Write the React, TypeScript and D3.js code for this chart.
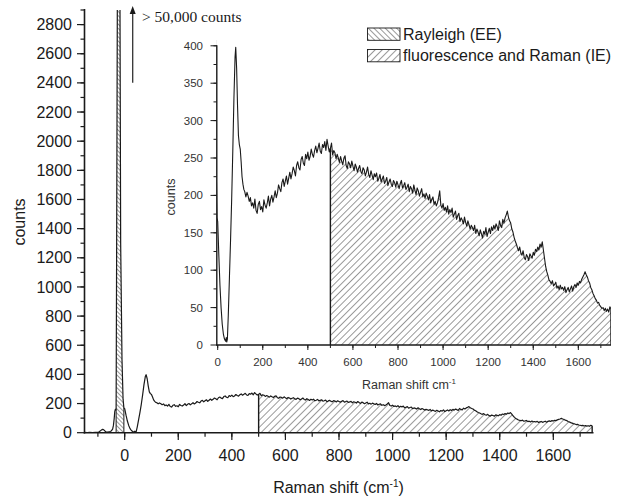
import React from "react";
import * as d3 from "d3";

// ---------- data ----------
// Rayleigh / low-shift region (explicit shift, counts pairs)
const lowShift = [-150, -140, -130, -120, -110, -100, -95, -90, -85, -82, -78, -74, -70, -65, -60, -55, -50, -45, -42, -39, -37, -35, -33, -32, -30, -27.5, -25, -23, -21, -17.5, -15, -10, -6, -3, 0, 5, 10, 15, 20, 25, 30, 35, 38, 40, 43, 47, 52, 57, 62, 67, 72, 77, 80, 84, 88, 92, 96, 100, 104, 108, 112, 116, 120, 125];
const lowCounts = [2, 1, 2, 1, 2, 3, 6, 14, 21, 23, 20, 12, 6, 4, 5, 8, 12, 25, 50, 100, 145, 160, 155, 160, 1300, 2900, 20000, 50000, 20000, 2900, 1300, 500, 230, 170, 165, 120, 80, 50, 28, 15, 8, 5, 10, 4, 8, 40, 90, 140, 195, 260, 330, 385, 398, 370, 320, 280, 268, 262, 245, 225, 215, 208, 205, 198];

// Spectrum body, sampled every 5 cm-1 from 130 cm-1
const bodyStart = 130;
const bodyStep = 5;
const bodyCounts = [
  204, 199, 192, 197, 186, 190, 183, 195, 180, 176, 188, 192, 181, 185, 178, 194, 187, 183, 190, 199,
  186, 195, 200, 191, 198, 206, 197, 203, 214, 209, 205, 217, 222, 212, 219, 226, 215, 223, 231, 222,
  229, 238, 233, 226, 240, 245, 237, 234, 248, 252, 243, 240, 255, 249, 258, 247, 252, 262, 255, 251,
  260, 266, 257, 263, 270, 259, 256, 268, 264, 272, 260, 275, 266, 258, 263, 270, 254, 260, 257, 249,
  255, 250, 244, 252, 246, 241, 250, 253, 240, 236, 245, 242, 237, 246, 239, 233, 242, 238, 231, 236,
  240, 232, 229, 237, 234, 226, 231, 238, 228, 224, 233, 227, 221, 229, 225, 230, 219, 223, 228, 218,
  222, 226, 216, 219, 224, 213, 218, 222, 215, 212, 220, 217, 211, 219, 214, 209, 216, 220, 210, 213,
  217, 208, 211, 215, 205, 212, 209, 203, 214, 207, 201, 210, 206, 199, 204, 209, 198, 202, 196, 203,
  199, 194, 201, 190, 195, 198, 188, 192, 186, 190, 197, 206, 187, 183, 189, 180, 184, 178, 186, 175,
  181, 177, 183, 171, 175, 179, 168, 173, 176, 165, 170, 167, 162, 171, 164, 159, 166, 161, 155, 160,
  157, 153, 160, 149, 155, 151, 146, 154, 149, 143, 152, 148, 157, 145, 151, 156, 149, 158, 153, 160,
  155, 162, 158, 153, 166, 160, 157, 168, 163, 170, 174, 179, 171, 166, 163, 155, 151, 144, 139, 135,
  130, 126, 131, 123, 120, 126, 117, 114, 121, 118, 113, 122, 119, 116, 124, 120, 128, 125, 131, 127,
  135, 131, 138, 127, 116, 105, 98, 93, 87, 85, 82, 86, 79, 81, 84, 76, 79, 74, 80, 75,
  77, 73, 78, 70, 74, 77, 71, 75, 79, 72, 78, 81, 77, 83, 80, 85, 83, 88, 91, 94,
  98, 94, 91, 86, 83, 77, 74, 69, 66, 62, 60, 56, 57, 53, 51, 49, 50, 46, 49, 45, 48, 44, 51, 48,
];

const eeRange = [-32, -3];
const ieRange = [500, 1745];

const mainXTicks = [0, 200, 400, 600, 800, 1000, 1200, 1400, 1600];
const mainYTicks = [0, 200, 400, 600, 800, 1000, 1200, 1400, 1600, 1800, 2000, 2200, 2400, 2600, 2800];
const insetXTicks = [0, 200, 400, 600, 800, 1000, 1200, 1400, 1600];
const insetYTicks = [0, 50, 100, 150, 200, 250, 300, 350, 400];

type Pt = { x: number; c: number };
const spectrum: Pt[] = [
  ...lowShift.map((x, i) => ({ x, c: lowCounts[i] })),
  ...bodyCounts.map((c, i) => ({ x: bodyStart + i * bodyStep, c })),
];

const FONT = "Liberation Sans, Arial, Helvetica, sans-serif";
const INK = "#1a1a1a";
const HATCH = "#111";

function range(a: number, b: number, s: number) {
  const r: number[] = [];
  for (let v = a; v <= b + 1e-9; v += s) r.push(v);
  return r;
}

export default function App() {
  // main plot scales
  const x = d3.scaleLinear().domain([-150, 1750]).range([84.5, 593.5]);
  const y = d3.scaleLinear().domain([0, 2900]).range([432.7, 10]);
  // inset scales
  const xi = d3.scaleLinear().domain([-4, 1745]).range([216.8, 611]);
  const yi = d3.scaleLinear().domain([0, 400]).range([345, 45.8]);

  const line = d3.line<Pt>().x((d) => x(d.x)).y((d) => y(d.c));
  const area = d3.area<Pt>().x((d) => x(d.x)).y0(y(0)).y1((d) => y(d.c));
  const lineI = d3.line<Pt>().x((d) => xi(d.x)).y((d) => yi(d.c));
  const areaI = d3.area<Pt>().x((d) => xi(d.x)).y0(yi(0)).y1((d) => yi(d.c));

  const ee = spectrum.filter((d) => d.x >= eeRange[0] && d.x <= eeRange[1]);
  const ie = spectrum.filter((d) => d.x >= ieRange[0] && d.x <= ieRange[1]);
  const insetPts = spectrum.filter((d) => d.x >= -10);

  const bounds = (pts: Pt[]) => [pts[0], pts[pts.length - 1]];

  const mainMinorX = range(-100, 1700, 100);
  const mainMinorY = range(100, 2900, 100);
  const insetMinorX = range(0, 1700, 100);
  const insetMinorY = range(25, 400, 25);

  return (
    <svg width={628} height={498} style={{ position: "absolute", left: 0, top: 0, background: "#fff" }} fontFamily={FONT}>
      <defs>
        <pattern id="hatchIE" width={5} height={5} patternUnits="userSpaceOnUse" patternTransform="rotate(45)">
          <line x1={0} y1={0} x2={0} y2={5} stroke={HATCH} strokeWidth={0.85} />
        </pattern>
        <pattern id="hatchIEi" width={4.8} height={4.8} patternUnits="userSpaceOnUse" patternTransform="rotate(45)">
          <line x1={0} y1={0} x2={0} y2={4.8} stroke={HATCH} strokeWidth={0.85} />
        </pattern>
        <pattern id="hatchEE" width={3} height={3} patternUnits="userSpaceOnUse" patternTransform="rotate(-45)">
          <line x1={0} y1={0} x2={0} y2={3} stroke={HATCH} strokeWidth={0.85} />
        </pattern>
        <pattern id="hatchEEleg" width={4} height={4} patternUnits="userSpaceOnUse" patternTransform="rotate(-45)">
          <line x1={0} y1={0} x2={0} y2={4} stroke={HATCH} strokeWidth={0.85} />
        </pattern>
        <clipPath id="clipMain">
          <rect x={84.5} y={10} width={509} height={423} />
        </clipPath>
        <clipPath id="clipInset">
          <rect x={216.8} y={40} width={394.2} height={305.5} />
        </clipPath>
      </defs>

      {/* ---------- main plot ---------- */}
      <g clipPath="url(#clipMain)">
        <path d={area(ee) || ""} fill="url(#hatchEE)" />
        <path d={area(ie) || ""} fill="url(#hatchIE)" />
        {bounds(ee).map((d, i) => (
          <line key={"eb" + i} x1={x(d.x)} x2={x(d.x)} y1={y(0)} y2={y(d.c)} stroke={INK} strokeWidth={1} />
        ))}
        {bounds(ie).map((d, i) => (
          <line key={"ib" + i} x1={x(d.x)} x2={x(d.x)} y1={y(0)} y2={y(d.c)} stroke={INK} strokeWidth={1.4} />
        ))}
        <path d={line(spectrum) || ""} fill="none" stroke={INK} strokeWidth={1.2} strokeLinejoin="round" />
      </g>

      {/* main axes */}
      <line x1={84.5} x2={84.5} y1={9} y2={433.5} stroke={INK} strokeWidth={1.6} />
      <line x1={83.7} x2={593.5} y1={432.7} y2={432.7} stroke={INK} strokeWidth={1.6} />
      {mainMinorX.map((v) => (
        <line key={"mx" + v} x1={x(v)} x2={x(v)} y1={432.7} y2={436.7} stroke={INK} strokeWidth={1.2} />
      ))}
      {mainXTicks.map((v) => (
        <g key={"MX" + v}>
          <line x1={x(v)} x2={x(v)} y1={432.7} y2={440} stroke={INK} strokeWidth={1.2} />
          <text x={x(v)} y={461} textAnchor="middle" fontSize={16} fill={INK}>{v}</text>
        </g>
      ))}
      {mainMinorY.map((v) => (
        <line key={"my" + v} x1={80.5} x2={84.5} y1={y(v)} y2={y(v)} stroke={INK} strokeWidth={1.2} />
      ))}
      {mainYTicks.map((v) => (
        <g key={"MY" + v}>
          <line x1={77} x2={84.5} y1={y(v)} y2={y(v)} stroke={INK} strokeWidth={1.2} />
          <text x={72} y={y(v) + 5.6} textAnchor="end" fontSize={16} fill={INK}>{v}</text>
        </g>
      ))}
      <text transform="translate(25,222) rotate(-90)" textAnchor="middle" fontSize={16} fill={INK}>counts</text>
      <text x={338.5} y={493} textAnchor="middle" fontSize={16} fill={INK}>
        Raman shift (cm<tspan dy={-6} fontSize={10}>-1</tspan><tspan dy={6}>)</tspan>
      </text>

      {/* arrow and annotation */}
      <line x1={132.7} x2={132.7} y1={82.7} y2={13} stroke="#333" strokeWidth={1.3} />
      <path d="M132.7,6 L129.7,14 L135.7,14 Z" fill={INK} />
      <text x={142} y={21.7} fontSize={15.5} fontFamily="Liberation Serif, Times New Roman, serif" fill={INK}>
        {"> 50,000 counts"}
      </text>

      {/* ---------- inset ---------- */}
      <g clipPath="url(#clipInset)">
        <path d={areaI(ie) || ""} fill="url(#hatchIEi)" />
        {bounds(ie).map((d, i) => (
          <line key={"iib" + i} x1={xi(d.x)} x2={xi(d.x)} y1={yi(0)} y2={yi(d.c)} stroke={INK} strokeWidth={1.4} />
        ))}
        <path d={lineI(insetPts) || ""} fill="none" stroke={INK} strokeWidth={1.1} strokeLinejoin="round" />
      </g>
      <line x1={216.8} x2={216.8} y1={45.3} y2={345.6} stroke={INK} strokeWidth={1.4} />
      <line x1={216.1} x2={611} y1={345} y2={345} stroke={INK} strokeWidth={1.4} />
      {insetMinorX.map((v) => (
        <line key={"ix" + v} x1={xi(v)} x2={xi(v)} y1={345} y2={348} stroke={INK} strokeWidth={1} />
      ))}
      {insetXTicks.map((v) => (
        <g key={"IX" + v}>
          <line x1={xi(v)} x2={xi(v)} y1={345} y2={350} stroke={INK} strokeWidth={1} />
          <text x={xi(v)} y={365.5} textAnchor="middle" fontSize={11.5} fill="#333">{v}</text>
        </g>
      ))}
      {insetMinorY.map((v) => (
        <line key={"iy" + v} x1={213.5} x2={216.8} y1={yi(v)} y2={yi(v)} stroke={INK} strokeWidth={1} />
      ))}
      {insetYTicks.map((v) => (
        <g key={"IY" + v}>
          <line x1={210.5} x2={216.8} y1={yi(v)} y2={yi(v)} stroke={INK} strokeWidth={1} />
          <text x={203} y={yi(v) + 4} textAnchor="end" fontSize={11.5} fill="#333">{v}</text>
        </g>
      ))}
      <text transform="translate(175,197) rotate(-90)" textAnchor="middle" fontSize={12.5} fill="#333">counts</text>
      <text x={409} y={389} textAnchor="middle" fontSize={12.5} fill="#333">
        Raman shift cm<tspan dy={-5} fontSize={8}>-1</tspan>
      </text>

      {/* ---------- legend ---------- */}
      <rect x={367.5} y={28} width={32.5} height={12.3} fill="url(#hatchEEleg)" stroke={INK} strokeWidth={0.9} />
      <text x={403} y={39.5} fontSize={16} fill={INK}>Rayleigh (EE)</text>
      <rect x={367.5} y={49.5} width={32.5} height={12.3} fill="url(#hatchIE)" stroke={INK} strokeWidth={0.9} />
      <text x={403} y={61} fontSize={16} fill={INK}>fluorescence and Raman (IE)</text>
    </svg>
  );
}
